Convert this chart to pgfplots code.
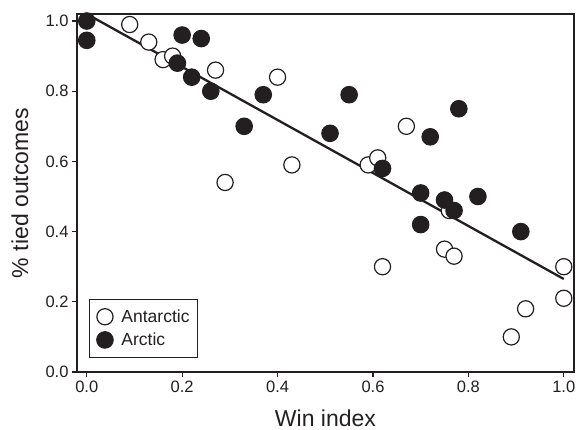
\documentclass[border=0pt]{standalone}
\usepackage{fontspec}
\setmainfont{Liberation Sans}
\usepackage{pgfplots}
\pgfplotsset{compat=1.18}
\definecolor{ink}{HTML}{231F20}

\begin{document}
\begin{tikzpicture}
\begin{axis}[
  scale only axis, width=497bp, height=358bp,
  xmin=-0.0205, xmax=1.0214, ymin=0, ymax=1.02,
  xtick={0,0.2,0.4,0.6,0.8,1}, ytick={0,0.2,0.4,0.6,0.8,1},
  xtick pos=bottom, ytick pos=left,
  tick align=outside, major tick length=5bp,
  tick style={ink, line width=1.2bp},
  axis line style={ink, line width=1.3bp},
  ticklabel style={font=\fontsize{16.5bp}{19bp}\selectfont, text=ink},
  /pgf/number format/.cd, assume math mode=true, fixed, fixed zerofill, precision=1,
  /pgfplots/.cd,
  xlabel={Win index}, ylabel={\% tied outcomes},
  label style={font=\fontsize{23bp}{27bp}\selectfont, text=ink},
  xlabel style={at={(axis description cs:0.5,-0.1285)}, anchor=center},
  ylabel style={at={(axis description cs:-0.1147,0.5)}, anchor=center},
  clip=false,
  legend cell align=left,
  legend image code/.code={\path (-9bp,0bp) (14.5bp,0bp); \draw[#1] plot coordinates {(0bp,0bp)};},
  legend style={at={(rel axis cs:0.0241,0.039)}, anchor=south west,
    draw=ink, line width=1bp, fill=white,
    font=\fontsize{17.5bp}{21bp}\selectfont,
    inner xsep=6bp, inner ysep=9bp, row sep=6bp,
    nodes={inner sep=1.5bp, text=ink}},
]
\path (rel axis cs:-0.1549,-0.1564) rectangle (rel axis cs:1.0101,1.0391);

\addplot[ink, line width=2.3bp, forget plot] coordinates {(0,1.02)(1.0,0.265)};

\addplot[only marks, mark=*, mark size=8.1bp,
  mark options={fill=white, draw=ink, line width=1.2bp}]
  coordinates {
    (0.09,0.99)(0.13,0.94)(0.16,0.89)(0.18,0.90)(0.27,0.86)
    (0.29,0.54)(0.40,0.84)(0.43,0.59)(0.59,0.59)(0.61,0.61)
    (0.62,0.30)(0.67,0.70)(0.75,0.35)(0.76,0.46)(0.77,0.33)
    (0.89,0.10)(0.92,0.18)(1.00,0.30)(1.00,0.21)
  };

\addplot[only marks, mark=*, mark size=8.3bp,
  mark options={fill=ink, draw=ink, line width=1bp}]
  coordinates {
    (0,1.00)(0,0.945)(0.20,0.96)(0.24,0.95)(0.19,0.88)
    (0.22,0.84)(0.26,0.80)(0.37,0.79)(0.33,0.70)(0.51,0.68)
    (0.55,0.79)(0.62,0.58)(0.70,0.51)(0.70,0.42)(0.72,0.67)
    (0.75,0.49)(0.77,0.46)(0.78,0.75)(0.82,0.50)(0.91,0.40)
  };

\legend{Antarctic, Arctic}
\end{axis}
\end{tikzpicture}
\end{document}
